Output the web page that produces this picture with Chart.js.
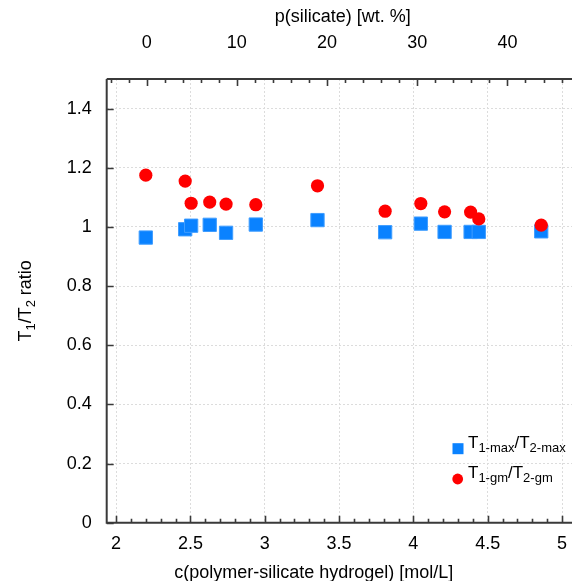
<!DOCTYPE html>
<html>
<head>
<meta charset="utf-8">
<script src="https://cdn.jsdelivr.net/npm/chart.js@4/dist/chart.umd.min.js"></script>
<style>
  html, body { margin: 0; padding: 0; overflow: hidden; background: #fff; }
  canvas { display: block; }
</style>
</head>
<body>
<canvas id="c" width="600" height="581"></canvas>
<script>
// Hydrogel concentration c [mol/L] for each sample
const concentration = [2.2, 2.465, 2.505, 2.63, 2.74, 2.94, 3.355, 3.81, 4.05, 4.21, 4.385, 4.44, 4.86];
// T1/T2 ratio from the relaxation-time maxima
const ratioMax = [0.964, 0.992, 1.004, 1.007, 0.980, 1.008, 1.023, 0.982, 1.011, 0.983, 0.983, 0.983, 0.985];
// T1/T2 ratio from the geometric means
const ratioGm = [1.175, 1.155, 1.080, 1.084, 1.077, 1.075, 1.139, 1.053, 1.079, 1.051, 1.050, 1.027, 1.006];

// Tick labels
const concentrationTicks = [2, 2.5, 3, 3.5, 4, 4.5, 5];
const silicateTicks = [0, 10, 20, 30, 40];
const ratioTicks = [0, 0.2, 0.4, 0.6, 0.8, 1, 1.2, 1.4];

const FONT = '"Liberation Sans", Arial, Helvetica, sans-serif';
const AXIS_COLOR = '#3a3a3a';
const BLUE = '#0a82ff';
const RED = '#ff0000';

const points = ys => concentration.map((c, i) => ({ x: c, y: ys[i] }));
const fmt = v => String(+v.toFixed(2));

// Text with sub-scripted parts: [[text, isSub], ...]
function drawRich(ctx, parts, x, y, size, subSize, subDrop) {
  let cx = x;
  for (const [t, sub] of parts) {
    ctx.font = (sub ? subSize : size) + 'px ' + FONT;
    ctx.fillText(t, cx, sub ? y + subDrop : y);
    cx += ctx.measureText(t).width;
  }
  return cx - x;
}
function richWidth(ctx, parts, size, subSize) {
  let w = 0;
  for (const [t, sub] of parts) {
    ctx.font = (sub ? subSize : size) + 'px ' + FONT;
    w += ctx.measureText(t).width;
  }
  return w;
}

// Axis frame with inward major/minor ticks, titles and legend
const framePlugin = {
  id: 'frame',
  afterDraw(chart) {
    const { ctx, chartArea: a, scales } = chart;
    const xs = scales.x, xt = scales.xTop, ys = scales.y;
    ctx.save();
    ctx.strokeStyle = AXIS_COLOR;
    ctx.lineWidth = 2;
    ctx.beginPath();
    ctx.moveTo(a.left, a.top);
    ctx.lineTo(a.left, a.bottom);
    ctx.lineTo(a.right, a.bottom);
    ctx.moveTo(a.left, a.top);
    ctx.lineTo(a.right, a.top);
    ctx.stroke();

    ctx.lineWidth = 1.6;
    ctx.beginPath();
    // bottom axis: minor every 0.1, major every 0.5
    for (let k = 19; k <= 51; k++) {
      const v = k / 10;
      if (v < xs.min || v > xs.max) continue;
      const px = Math.round(xs.getPixelForValue(v)) + 0.5;
      const len = k % 5 === 0 ? 7 : 4;
      ctx.moveTo(px, a.bottom);
      ctx.lineTo(px, a.bottom - len);
    }
    // top axis: minor every 2, major every 10
    for (let p = -4; p <= 48; p += 2) {
      if (p < xt.min || p > xt.max) continue;
      const px = Math.round(xt.getPixelForValue(p)) + 0.5;
      const len = p % 10 === 0 ? 7 : 4;
      ctx.moveTo(px, a.top);
      ctx.lineTo(px, a.top + len);
    }
    // left axis
    for (const v of ratioTicks) {
      const py = Math.round(ys.getPixelForValue(v)) + 0.5;
      ctx.moveTo(a.left, py);
      ctx.lineTo(a.left + 7, py);
    }
    ctx.stroke();

    // axis titles
    ctx.fillStyle = '#000';
    ctx.textAlign = 'center';
    ctx.textBaseline = 'alphabetic';
    ctx.font = '18px ' + FONT;
    ctx.fillText('p(silicate) [wt. %]', a.left + 236, 21.5);
    ctx.fillText('c(polymer-silicate hydrogel) [mol/L]', a.left + 207, 578);

    // rotated y title
    ctx.save();
    ctx.translate(31, (a.top + a.bottom) / 2);
    ctx.rotate(-Math.PI / 2);
    ctx.textAlign = 'left';
    const yParts = [['T', false], ['1', true], ['/T', false], ['2', true], [' ratio', false]];
    const yw = richWidth(ctx, yParts, 18, 13);
    drawRich(ctx, yParts, -yw / 2, 0, 18, 13, 4);
    ctx.restore();

    // legend
    ctx.textAlign = 'left';
    ctx.fillStyle = BLUE;
    ctx.fillRect(452.5, 443.2, 11, 11);
    ctx.fillStyle = RED;
    ctx.beginPath();
    ctx.arc(457.7, 479, 5.4, 0, Math.PI * 2);
    ctx.fill();
    ctx.fillStyle = '#000';
    drawRich(ctx, [['T', false], ['1-max', true], ['/T', false], ['2-max', true]], 468, 448.2, 17, 13, 3.6);
    drawRich(ctx, [['T', false], ['1-gm', true], ['/T', false], ['2-gm', true]], 468, 478.3, 17, 13, 3.6);
    ctx.restore();
  }
};

const tickFont = { family: FONT, size: 18 };

new Chart(document.getElementById('c'), {
  type: 'scatter',
  data: {
    datasets: [
      {
        label: 'T1-gm/T2-gm',
        data: points(ratioGm),
        pointStyle: 'circle',
        pointRadius: 6.6,
        pointHoverRadius: 6.6,
        backgroundColor: RED,
        borderColor: RED,
        borderWidth: 0
      },
      {
        label: 'T1-max/T2-max',
        data: points(ratioMax),
        pointStyle: 'rect',
        pointRadius: 9.4,
        pointHoverRadius: 9.4,
        backgroundColor: BLUE,
        borderColor: '#3f9dff',
        borderWidth: 1
      }
    ]
  },
  options: {
    responsive: false,
    animation: false,
    devicePixelRatio: 1,
    layout: { padding: { left: 0, right: 23.1, top: 0, bottom: 0 } },
    plugins: { legend: { display: false }, tooltip: { enabled: false } },
    scales: {
      x: {
        type: 'linear',
        position: 'bottom',
        min: 1.937,
        max: 5.1,
        afterFit: s => { s.height = 58.3; },
        afterBuildTicks: s => { s.ticks = concentrationTicks.map(v => ({ value: v })); },
        ticks: { font: tickFont, color: '#000', padding: 11, maxRotation: 0, callback: v => fmt(v) },
        grid: { color: '#dcdcdc', lineWidth: 1, drawTicks: false },
        border: { display: false, dash: [2, 2] }
      },
      xTop: {
        type: 'linear',
        position: 'top',
        min: -4.43,
        max: 47.7,
        afterFit: s => { s.height = 79; },
        afterBuildTicks: s => { s.ticks = silicateTicks.map(v => ({ value: v })); },
        ticks: { font: tickFont, color: '#000', padding: 25, maxRotation: 0, callback: v => fmt(v) },
        grid: { display: false, drawTicks: false },
        border: { display: false }
      },
      y: {
        type: 'linear',
        position: 'left',
        min: 0,
        max: 1.5,
        afterFit: s => { s.width = 106.7; },
        afterBuildTicks: s => { s.ticks = ratioTicks.map(v => ({ value: v })); },
        ticks: { font: tickFont, color: '#000', padding: 15, callback: v => fmt(v) },
        grid: { color: '#dcdcdc', lineWidth: 1, drawTicks: false },
        border: { display: false, dash: [2, 2] }
      }
    }
  },
  plugins: [framePlugin]
});
</script>
</body>
</html>
